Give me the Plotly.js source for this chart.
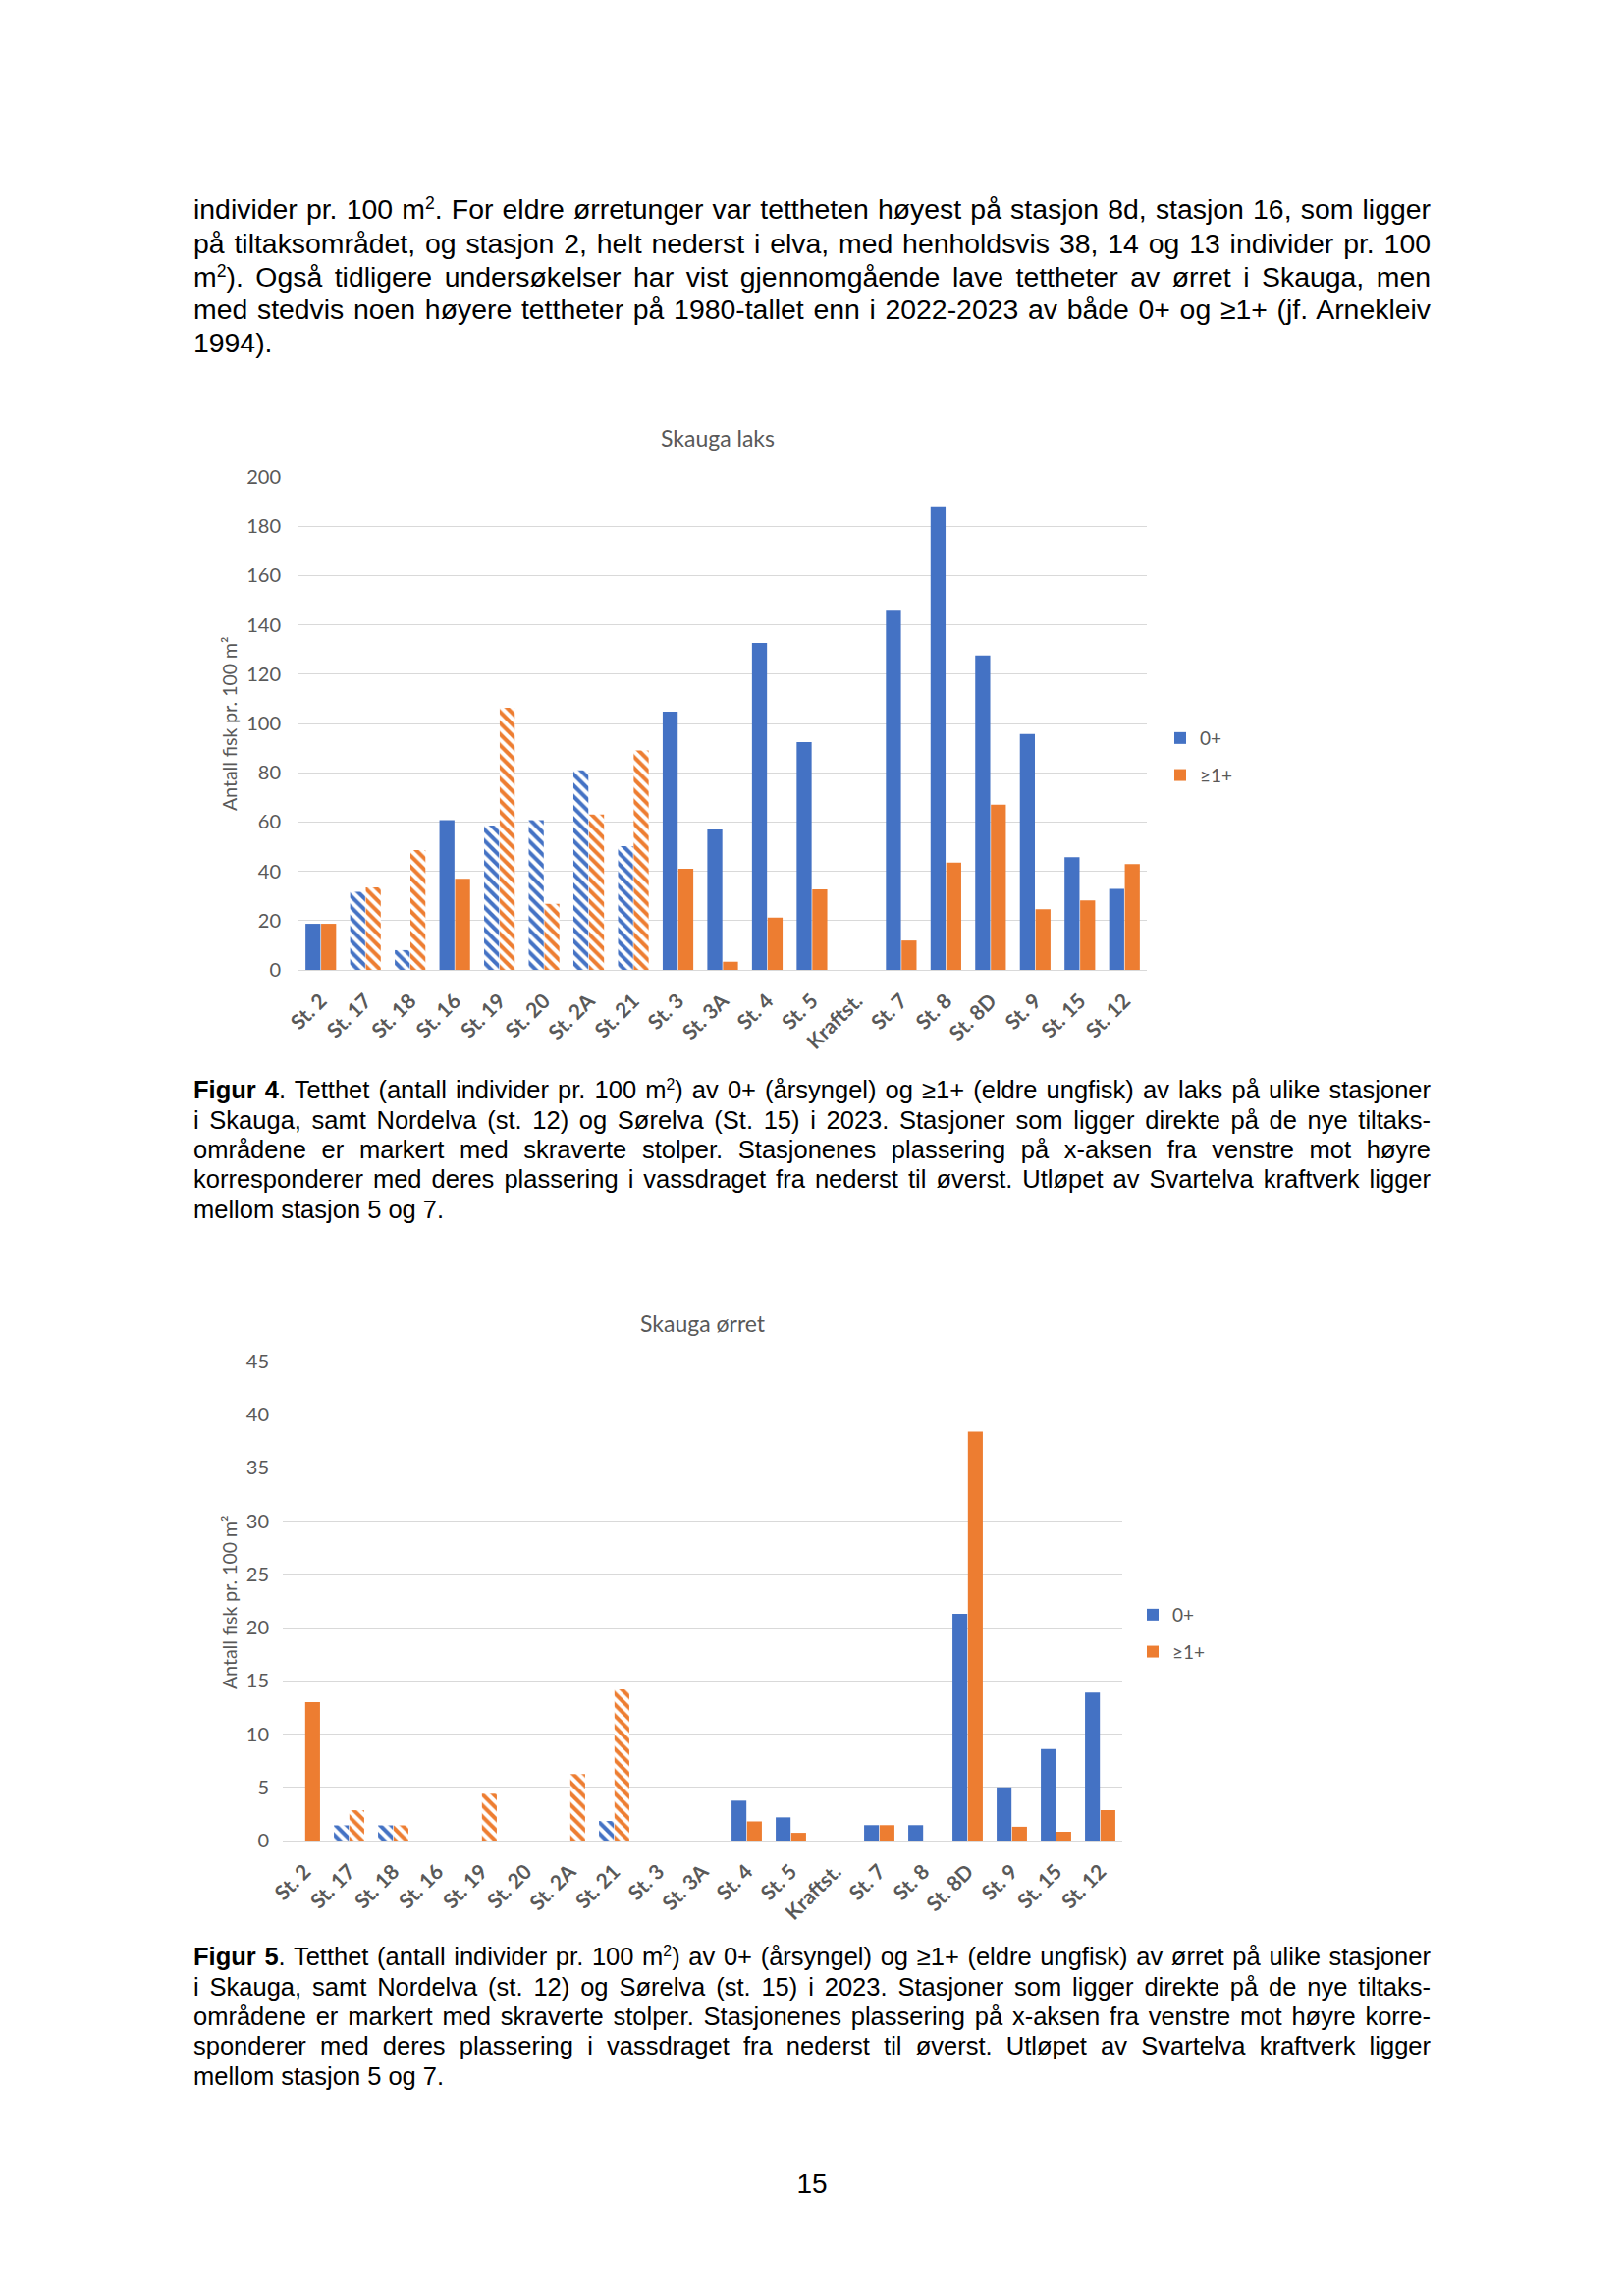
<!DOCTYPE html>
<html>
<head>
<meta charset="utf-8">
<script src="https://cdn.plot.ly/plotly-3.0.1.min.js"></script>
<style>
  html, body { margin: 0; padding: 0; background: #ffffff; }
  #page { position: relative; width: 1654px; height: 2339px; overflow: hidden; background: #fff; }
  #plot { position: absolute; left: 0; top: 0; width: 1654px; height: 2339px; }
  .ln { position: absolute; left: 197px; width: 1260px; font-family: "Liberation Sans", Arial, sans-serif; color: #000; white-space: nowrap; }
  .body { font-size: 28.4px; line-height: 34px; height: 34px; }
  .cap { font-size: 25.5px; line-height: 30px; height: 30px; }
  .j { text-align: justify; text-align-last: justify; }
  sup { font-size: 0.62em; line-height: 0; vertical-align: 0.55em; }
  #pnum { position: absolute; left: 0; width: 1654px; text-align: center; top: 2210px; font-family: "Liberation Sans", Arial, sans-serif; font-size: 28px; line-height: 30px; }
</style>
</head>
<body>
<div id="page">
  <div id="plot"></div>

  <div class="ln body j" style="top:196px">individer pr. 100 m<sup>2</sup>. For eldre ørretunger var tettheten høyest på stasjon 8d, stasjon 16, som ligger</div>
  <div class="ln body j" style="top:231px">på tiltaksområdet, og stasjon 2, helt nederst i elva, med henholdsvis 38, 14 og 13 individer pr. 100</div>
  <div class="ln body j" style="top:265px">m<sup>2</sup>). Også tidligere undersøkelser har vist gjennomgående lave tettheter av ørret i Skauga, men</div>
  <div class="ln body j" style="top:298px">med stedvis noen høyere tettheter på 1980-tallet enn i 2022-2023 av både 0+ og ≥1+ (jf. Arnekleiv</div>
  <div class="ln body" style="top:332px">1994).</div>

  <div class="ln cap j" style="top:1095px"><b>Figur 4</b>. Tetthet (antall individer pr. 100 m<sup>2</sup>) av 0+ (årsyngel) og ≥1+ (eldre ungfisk) av laks på ulike stasjoner</div>
  <div class="ln cap j" style="top:1126px">i Skauga, samt Nordelva (st. 12) og Sørelva (St. 15) i 2023. Stasjoner som ligger direkte på de nye tiltaks-</div>
  <div class="ln cap j" style="top:1156px">områdene er markert med skraverte stolper. Stasjonenes plassering på x-aksen fra venstre mot høyre</div>
  <div class="ln cap j" style="top:1186px">korresponderer med deres plassering i vassdraget fra nederst til øverst. Utløpet av Svartelva kraftverk ligger</div>
  <div class="ln cap" style="top:1217px">mellom stasjon 5 og 7.</div>

  <div class="ln cap j" style="top:1978px"><b>Figur 5</b>. Tetthet (antall individer pr. 100 m<sup>2</sup>) av 0+ (årsyngel) og ≥1+ (eldre ungfisk) av ørret på ulike stasjoner</div>
  <div class="ln cap j" style="top:2009px">i Skauga, samt Nordelva (st. 12) og Sørelva (st. 15) i 2023. Stasjoner som ligger direkte på de nye tiltaks-</div>
  <div class="ln cap j" style="top:2039px">områdene er markert med skraverte stolper. Stasjonenes plassering på x-aksen fra venstre mot høyre korre-</div>
  <div class="ln cap j" style="top:2069px">sponderer med deres plassering i vassdraget fra nederst til øverst. Utløpet av Svartelva kraftverk ligger</div>
  <div class="ln cap" style="top:2100px">mellom stasjon 5 og 7.</div>

  <div id="pnum">15</div>
</div>

<script>
// ---- Data ----
var stations = ['St. 2','St. 17','St. 18','St. 16','St. 19','St. 20','St. 2A','St. 21','St. 3','St. 3A','St. 4','St. 5','Kraftst.','St. 7','St. 8','St. 8D','St. 9','St. 15','St. 12'];
// stations directly on the new measure areas (hatched bars)
var hatched = [false,true,true,false,true,true,true,true,false,false,false,false,false,false,false,false,false,false,false];

// Skauga laks (salmon), fish per 100 m2
var laks0 = [18.7, 31.7, 8.0, 60.8, 58.6, 60.8, 81.0, 50.2, 104.8, 57.0, 132.7, 92.4, null, 146.1, 188.1, 127.6, 95.7, 45.7, 32.9];
var laks1 = [18.7, 33.5, 48.6, 37.0, 106.4, 26.8, 63.0, 89.0, 41.0, 3.3, 21.2, 32.7, null, 11.9, 43.5, 67.0, 24.6, 28.2, 42.9];

// Skauga ørret (trout), fish per 100 m2
var orret0 = [null, 1.43, 1.43, null, null, null, null, 1.84, null, null, 3.75, 2.18, null, 1.45, 1.45, 21.3, 5.0, 8.6, 13.9];
var orret1 = [13.0, 2.85, 1.43, null, 4.4, null, 6.24, 14.2, null, null, 1.8, 0.73, null, 1.45, null, 38.4, 1.3, 0.83, 2.86];

var seriesNames = ['0+', '≥1+'];
var chartTitles = ['Skauga laks', 'Skauga ørret'];
var yTitle = 'Antall fisk pr. 100 m²';

// ---- Styling ----
var BLUE = '#4472C4', ORANGE = '#ED7D31', GREY = '#595959', GRID = '#d9d9d9';
var W = 1654, H = 2339;
var shapes = hatched.map(function (h) { return h ? '\\' : ''; });

function barTrace(y, name, color, xa, ya, leg) {
  return {
    type: 'bar', x: stations, y: y, name: name,
    xaxis: xa, yaxis: ya, legend: leg, legendgroup: leg + name,
    marker: {
      color: color, line: {width: 0},
      pattern: {shape: shapes, fgcolor: color, bgcolor: '#ffffff', size: 8, solidity: 0.5, fillmode: 'replace'}
    },
    hoverinfo: 'x+y+name'
  };
}

var data = [
  barTrace(laks0, seriesNames[0], BLUE, 'x', 'y', 'legend'),
  barTrace(laks1, seriesNames[1], ORANGE, 'x', 'y', 'legend'),
  barTrace(orret0, seriesNames[0], BLUE, 'x2', 'y2', 'legend2'),
  barTrace(orret1, seriesNames[1], ORANGE, 'x2', 'y2', 'legend2')
];

function px(x) { return x / W; }
function py(y) { return 1 - y / H; }

var xTickFont = {family: 'Lato, sans-serif', size: 21, color: GREY, weight: 'bold'};
var yTickFont = {family: 'Lato, sans-serif', size: 20, color: GREY};

function xAxis(domain, anchor, standoff) {
  return {
    domain: domain, anchor: anchor, type: 'category',
    tickangle: -45, tickfont: xTickFont, ticks: '', showgrid: false,
    showline: true, linecolor: GRID, linewidth: 1, ticklabelstandoff: standoff,
    fixedrange: true
  };
}
function yAxis(domain, anchor, range, dtick, standoff) {
  return {
    domain: domain, anchor: anchor, range: range, dtick: dtick, tick0: 0,
    tickfont: yTickFont, ticks: '', showline: false,
    showgrid: true, gridcolor: GRID, gridwidth: 1,
    zeroline: true, zerolinecolor: GRID, zerolinewidth: 1,
    ticklabelstandoff: standoff, fixedrange: true
  };
}

function legendCfg(xpx, ymid) {
  return {
    x: px(xpx), xanchor: 'left', y: py(ymid), yanchor: 'middle',
    font: {family: 'Lato, sans-serif', size: 19, color: GREY},
    traceorder: 'grouped', tracegroupgap: 10, itemwidth: 30,
    bgcolor: 'rgba(0,0,0,0)', borderwidth: 0
  };
}

var layout = {
  width: W, height: H, autosize: false,
  margin: {l: 0, r: 0, t: 0, b: 0, pad: 0},
  paper_bgcolor: '#ffffff', plot_bgcolor: '#ffffff',
  font: {family: 'Lato, sans-serif', color: GREY},
  barmode: 'group', bargap: 0.30, bargroupgap: 0.04,
  showlegend: true,
  xaxis: xAxis([px(304), px(1168)], 'y', 10),
  yaxis: yAxis([py(988), py(486)], 'x', [0, 200], 20, 17),
  xaxis2: xAxis([px(288), px(1143)], 'y2', 10),
  yaxis2: yAxis([py(1875), py(1387)], 'x2', [0, 45], 5, 13),
  legend: legendCfg(1182, 771),
  legend2: legendCfg(1154, 1664),
  annotations: [
    {text: chartTitles[0], xref: 'paper', yref: 'paper', x: px(731), y: py(446), xanchor: 'center', yanchor: 'middle', showarrow: false, font: {family: 'Lato, sans-serif', size: 23, color: GREY}},
    {text: chartTitles[1], xref: 'paper', yref: 'paper', x: px(716), y: py(1348), xanchor: 'center', yanchor: 'middle', showarrow: false, font: {family: 'Lato, sans-serif', size: 23, color: GREY}},
    {text: yTitle, xref: 'paper', yref: 'paper', x: px(233), y: py(737), xanchor: 'center', yanchor: 'middle', textangle: -90, showarrow: false, font: {family: 'Lato, sans-serif', size: 19.5, color: GREY}},
    {text: yTitle, xref: 'paper', yref: 'paper', x: px(233), y: py(1632), xanchor: 'center', yanchor: 'middle', textangle: -90, showarrow: false, font: {family: 'Lato, sans-serif', size: 19.5, color: GREY}}
  ]
};

Plotly.newPlot('plot', data, layout, {staticPlot: true, displayModeBar: false});
</script>
</body>
</html>
